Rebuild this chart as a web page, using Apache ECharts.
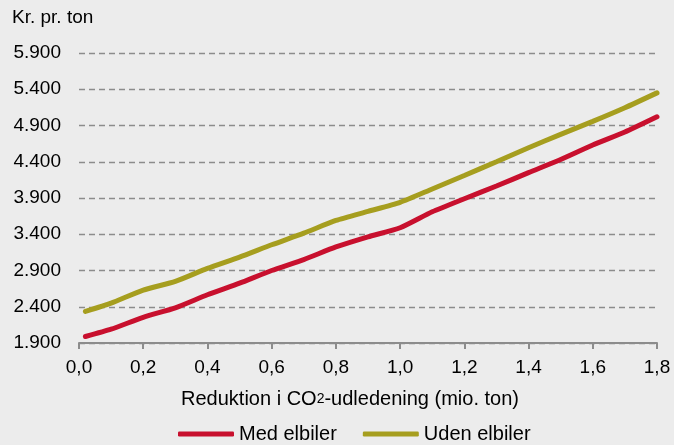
<!DOCTYPE html>
<html>
<head>
<meta charset="utf-8">
<script src="https://cdn.jsdelivr.net/npm/echarts@6/dist/echarts.min.js"></script>
<style>
html,body{margin:0;padding:0;background:#ececec;}
#c{width:674px;height:445px;}
</style>
</head>
<body>
<div id="c"></div>
<script>
const xValues = [0.02, 0.1, 0.2, 0.3, 0.4, 0.5, 0.6, 0.7, 0.8, 0.9, 1.0, 1.1, 1.2, 1.3, 1.4, 1.5, 1.6, 1.7, 1.8];
const medElbiler = [1990, 2090, 2255, 2385, 2565, 2725, 2900, 3050, 3225, 3365, 3490, 3710, 3890, 4065, 4250, 4430, 4630, 4810, 5020];
const udenElbiler = [2335, 2450, 2630, 2750, 2930, 3085, 3255, 3415, 3590, 3715, 3840, 4025, 4210, 4400, 4594, 4778, 4957, 5145, 5350];
const seriesNames = ['Med elbiler', 'Uden elbiler'];
const yTitle = 'Kr. pr. ton';

const pair = (xs, ys) => xs.map((x, i) => [x, ys[i]]);
const fmtY = v => String(v).replace(/\B(?=(\d{3})+(?!\d))/g, '.');
const fmtX = v => v.toFixed(1).replace('.', ',');
const FONT = 'Liberation Sans, Arial, sans-serif';

const chart = echarts.init(document.getElementById('c'));
chart.setOption({
  backgroundColor: '#ececec',
  animation: false,
  textStyle: { fontFamily: FONT, color: '#000' },
  grid: { left: 79, right: 17, top: 53, bottom: 102, containLabel: false },
  graphic: [{
    type: 'text', left: 12, top: 8,
    style: { text: yTitle, font: '19px ' + FONT, fill: '#000' }
  }],
  xAxis: {
    type: 'value', min: 0, max: 1.8, interval: 0.2,
    axisLine: { show: true, lineStyle: { color: '#8c8c8c', width: 2 } },
    axisTick: { show: true, length: 6, lineStyle: { color: '#8c8c8c', width: 2 } },
    axisLabel: { formatter: fmtX, fontSize: 19, color: '#000', margin: 15, fontFamily: FONT },
    splitLine: { show: false },
    name: '{n|Reduktion i CO}{s|2}{n|-udledening (mio. ton)}',
    nameLocation: 'middle', nameGap: 46,
    nameTextStyle: {
      padding: [0, 36, 0, 0],
      rich: {
        n: { fontSize: 20, color: '#000', fontFamily: FONT },
        s: { fontSize: 14, color: '#000', fontFamily: FONT }
      }
    }
  },
  yAxis: {
    type: 'value', min: 1900, max: 5900, interval: 500,
    axisLine: { show: false },
    axisTick: { show: false },
    axisLabel: { formatter: fmtY, fontSize: 19, color: '#000', margin: 18, fontFamily: FONT },
    splitLine: { show: true, lineStyle: { color: '#8c8c8c', type: [6, 4], width: 1.3 } }
  },
  legend: {
    top: 419, left: 173, itemWidth: 56, itemHeight: 5, itemGap: 26,
    icon: 'roundRect',
    textStyle: { fontSize: 20, color: '#000', fontFamily: FONT },
    data: seriesNames
  },
  series: [
    {
      name: seriesNames[0], type: 'line', data: pair(xValues, medElbiler),
      showSymbol: false, smooth: 0.2, color: '#c8102e',
      lineStyle: { width: 5, cap: 'round', color: '#c8102e' }
    },
    {
      name: seriesNames[1], type: 'line', data: pair(xValues, udenElbiler),
      showSymbol: false, smooth: 0.2, color: '#a69e1f',
      lineStyle: { width: 5, cap: 'round', color: '#a69e1f' }
    }
  ]
});
</script>
</body>
</html>
